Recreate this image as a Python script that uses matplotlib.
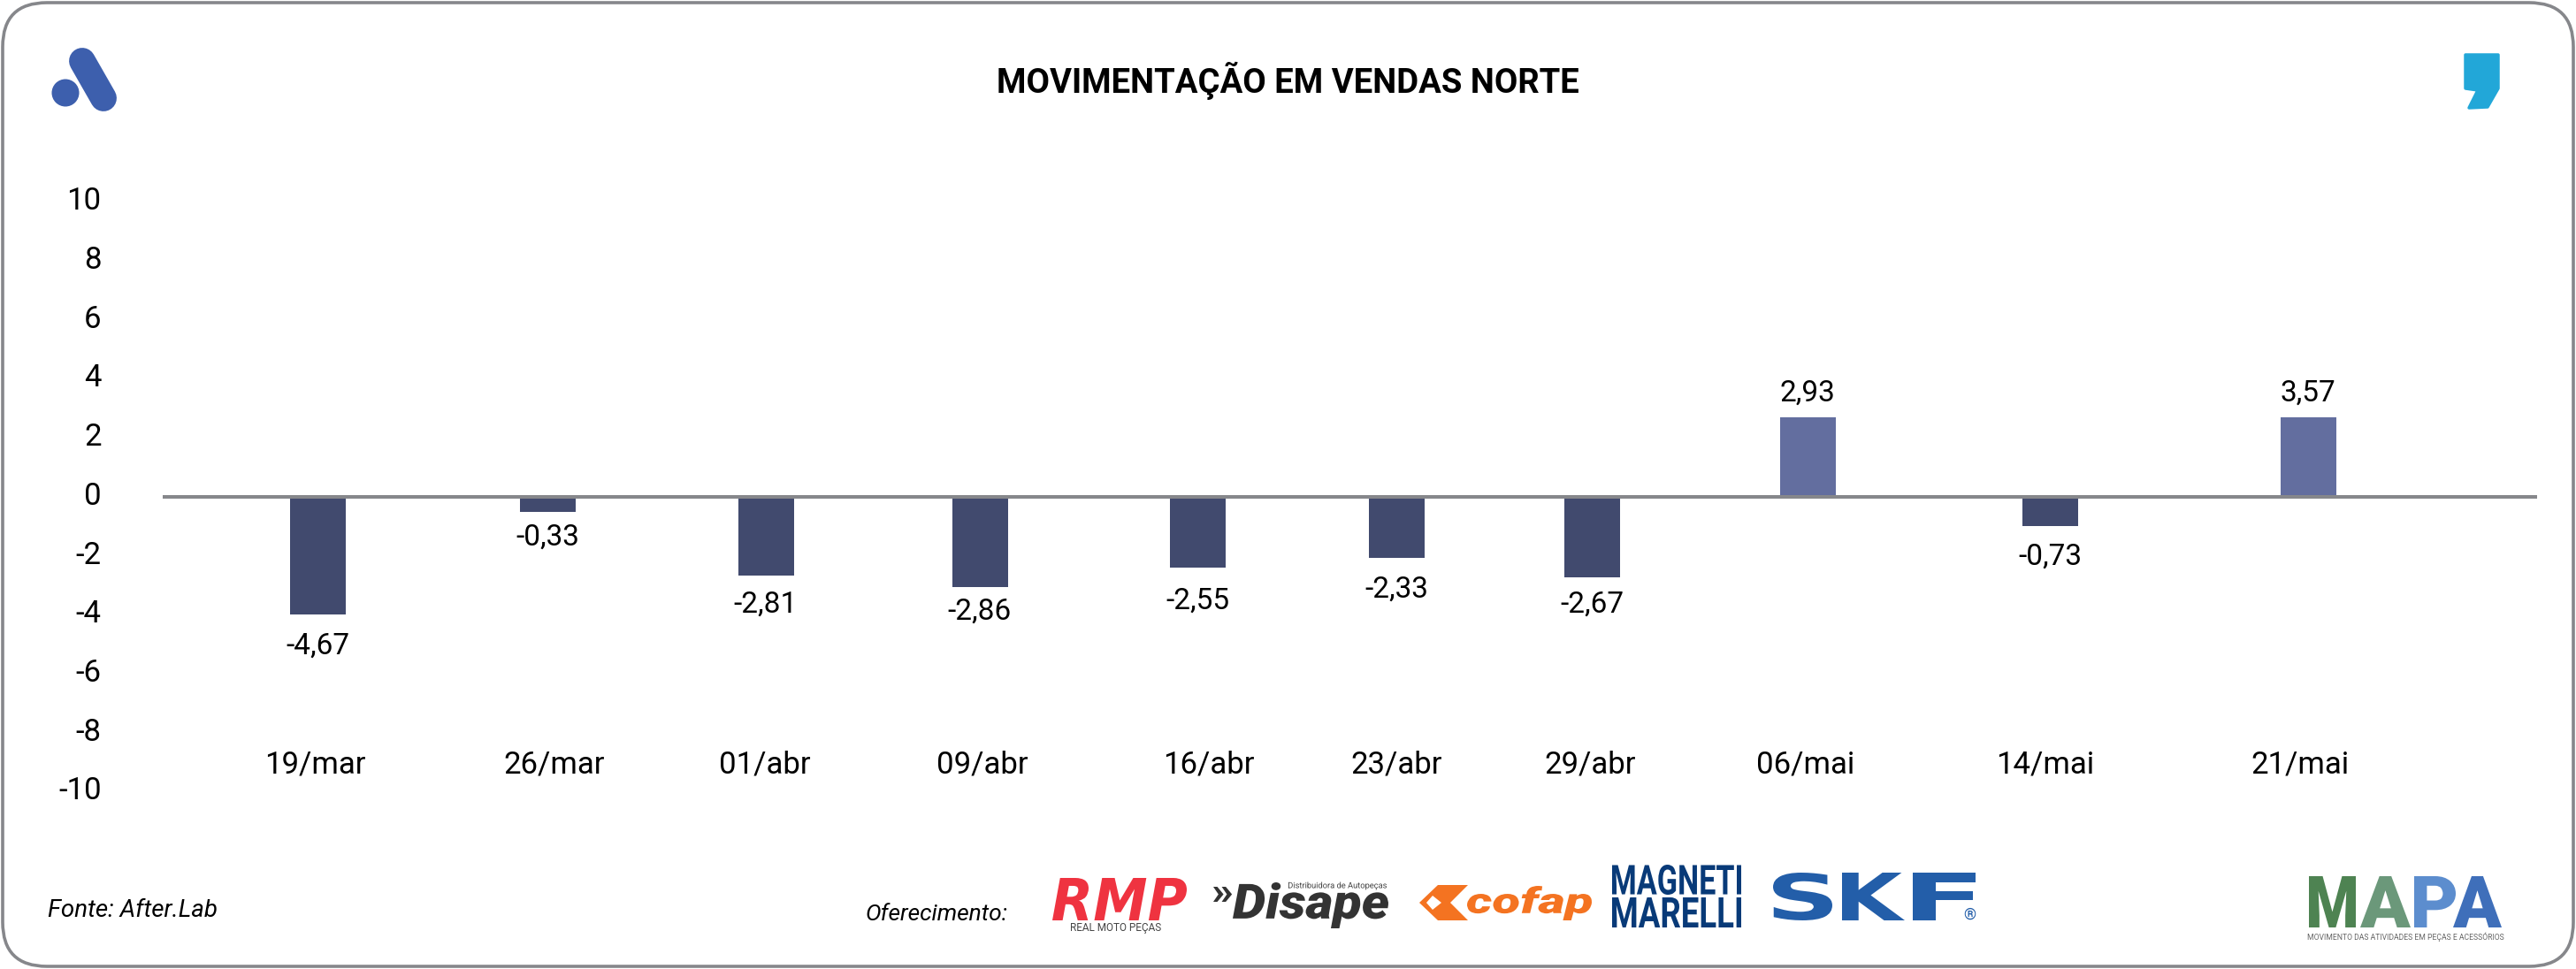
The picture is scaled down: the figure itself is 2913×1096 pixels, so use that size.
#!/usr/bin/env python
import matplotlib
matplotlib.use('Agg')
import matplotlib.pyplot as plt
import matplotlib.patheffects as pe
from matplotlib.font_manager import FontProperties
from matplotlib.patches import FancyBboxPatch, Polygon, Circle
from matplotlib.textpath import TextPath
from matplotlib.transforms import Affine2D, ScaledTranslation

plt.rcParams['font.family'] = ['Roboto', 'DejaVu Sans']

# chart values
dates = ['19/mar', '26/mar', '01/abr', '09/abr', '16/abr', '23/abr', '29/abr', '06/mai', '14/mai', '21/mai']
# drawn bar heights as they sit against the axis (they do not follow the printed numbers)
bar_heights = [-4.0, -0.5, -2.67, -3.06, -2.40, -2.07, -2.73, 2.7, -1.0, 2.7]
bar_labels = ['-4,67', '-0,33', '-2,81', '-2,86', '-2,55', '-2,33', '-2,67', '2,93', '-0,73', '3,57']
y_ticks = [10, 8, 6, 4, 2, 0, -2, -4, -6, -8, -10]

# layout, in figure pixels on the x axis
bar_x = [359, 619, 866, 1108, 1354, 1579, 1800, 2044, 2318, 2610]
date_x = [356, 627, 865, 1111, 1367, 1579, 1798, 2042, 2313, 2601]
label_y = [-5.05, -1.37, -3.65, -3.89, -3.53, -3.14, -3.65, 3.52, -2.03, 3.52]

W, H = 2913, 1096
NEG = '#414a6e'
POS = '#636e9f'
GREY = '#86878b'


class Stretch(pe.AbstractPathEffect):
    # squeezes a logo word to the box it has in the picture
    def __init__(self, sx, sy):
        super().__init__()
        self.sx, self.sy = sx, sy

    def draw_path(self, renderer, gc, tpath, affine, rgbFace=None):
        renderer.draw_path(gc, tpath, Affine2D().scale(self.sx, self.sy) + affine, rgbFace)


def fit_text(txt, x0, x1, top, bottom, color, family='Roboto', weight='black', style='normal', size=30):
    bb = TextPath((0, 0), txt, size=size, prop=FontProperties(family=family, weight=weight, style=style)).get_extents()
    k = 100 / 72
    sx = (x1 - x0) / (bb.width * k)
    sy = (bottom - top) / (bb.height * k)
    return bg.text(x0 - bb.x0 * k * sx, bottom + bb.y0 * k * sy, txt, family=family, fontweight=weight, style=style,
                   fontsize=size, color=color, ha='left', va='baseline', path_effects=[Stretch(sx, sy)])


fig = plt.figure(figsize=(W / 100, H / 100), dpi=100, facecolor='white')

# background layer in pixel coordinates: frame, logos, notes
bg = fig.add_axes([0, 0, 1, 1])
bg.set_xlim(0, W)
bg.set_ylim(H, 0)
bg.axis('off')

bg.add_patch(FancyBboxPatch((3, 3), W - 6, H - 6, boxstyle='round,pad=0,rounding_size=50',
                            fc='white', ec=GREY, lw=2.6))

bg.text(1456, 91, 'MOVIMENTAÇÃO EM VENDAS NORTE', fontsize=27.5, fontweight='bold',
        ha='center', va='center', color='black')
bg.text(54, 1030, 'Fonte: After.Lab', fontsize=20, style='italic', va='center', color='black')
bg.text(979, 1034, 'Oferecimento:', fontsize=19, style='italic', va='center', color='black')

# After logo
bg.plot([93, 117], [69, 111], color='#3d5fad', lw=21.5, solid_capstyle='round')
bg.add_patch(Circle((74, 105), 15.5, fc='#3d5fad', ec='none'))

# comma logo
bg.add_patch(Polygon([(2788, 62), (2825, 62), (2825, 100), (2813, 121), (2792, 122), (2802, 102), (2788, 100)],
                     closed=True, fc='#22a7d8', ec='#22a7d8', lw=2.5, joinstyle='round'))

# RMP
fit_text('RMP', 1190, 1342, 993, 1041, '#ef3340', family='DejaVu Sans', weight='bold', style='oblique', size=18)
bg.text(1262, 1049, 'REAL MOTO PEÇAS', fontsize=8.5, color='#444444', ha='center', va='center')

# Disape
fit_text('Disape', 1394, 1570, 998, 1050, '#333333', style='italic')
fit_text('Distribuidora de Autopeças', 1457, 1568, 997.5, 1006.5, '#444444', weight='normal', size=7)
fit_text('»', 1372, 1393, 1003, 1020, '#333333', weight='bold')

# cofap
bg.add_patch(Polygon([(1626, 1001), (1660, 1001), (1640, 1021), (1660, 1041), (1626, 1041), (1605, 1021)],
                     closed=True, fc='#f47321', ec='none'))
bg.add_patch(Polygon([(1613, 1021), (1620, 1013), (1630, 1021), (1620, 1029)], closed=True, fc='white', ec='none'))
fit_text('cofap', 1659, 1800, 1002, 1041, '#f47321', style='italic')

# Magneti Marelli
for txt, top, bottom in (('MAGNETI', 978, 1012), ('MARELLI', 1015, 1049)):
    fit_text(txt, 1823, 1969, top, bottom, '#083a78', weight='bold', size=20)

# SKF
for letter, x0, x1 in (('S', 2005, 2072), ('K', 2083, 2154), ('F', 2163, 2234)):
    fit_text(letter, x0, x1, 987, 1041, '#235ea9', family='DejaVu Sans', weight='bold')
bg.text(2227, 1035, '®', fontsize=13, color='#235ea9', ha='center', va='center')

# MAPA
for letter, x0, x1, col in (('M', 2611, 2664, '#4e8352'), ('A', 2669, 2726, '#6b987a'),
                            ('P', 2730, 2777, '#5c8dce'), ('A', 2774, 2829, '#3f6fba')):
    fit_text(letter, x0, x1, 991, 1049, col)
bg.text(2720, 1060, 'MOVIMENTO DAS ATIVIDADES EM PEÇAS E ACESSÓRIOS', fontsize=6.2, color='#666666',
        ha='center', va='center')

# chart
ax = fig.add_axes([184 / W, (H - 895.5) / H, (2869 - 184) / W, 667 / H])
ax.patch.set_alpha(0)
ax.set_xlim(184, 2869)
ax.set_ylim(-10, 10)
for s in ax.spines.values():
    s.set_visible(False)

colors = [POS if v > 0 else NEG for v in bar_heights]
ax.bar(bar_x, bar_heights, width=63, color=colors, zorder=2)
ax.axhline(0, color=GREY, lw=2.9, zorder=3)

for xx, yy, txt in zip(bar_x, label_y, bar_labels):
    ax.text(xx, yy, txt, fontsize=24, ha='center', va='center', color='black')

ax.set_yticks(y_ticks, [str(v) for v in y_ticks])
ax.tick_params(axis='y', length=0, pad=50, labelsize=25)
ax.set_xticks(date_x, dates)
ax.tick_params(axis='x', length=0, pad=-34, labelsize=25)
up = ScaledTranslation(0, 3 / 72, fig.dpi_scale_trans)
for lab in ax.get_yticklabels():
    lab.set_transform(lab.get_transform() + up)

fig.savefig('out.png', dpi=100)
